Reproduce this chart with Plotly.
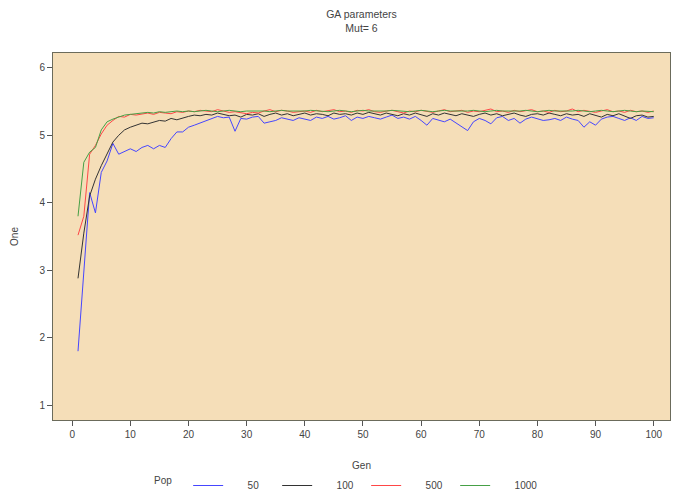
import plotly.graph_objects as go

gen = list(range(1, 101))

pop50 = [1.80, 3.00, 4.15, 3.85, 4.45, 4.62, 4.88, 4.72, 4.76, 4.80,
         4.76, 4.82, 4.85, 4.80, 4.85, 4.82, 4.95, 5.05, 5.05, 5.12,
         5.15, 5.18, 5.22, 5.25, 5.28, 5.26, 5.27, 5.06, 5.25, 5.24,
         5.27, 5.28, 5.18, 5.20, 5.22, 5.26, 5.24, 5.22, 5.26, 5.24,
         5.22, 5.27, 5.25, 5.28, 5.24, 5.26, 5.29, 5.22, 5.27, 5.25,
         5.28, 5.26, 5.24, 5.27, 5.30, 5.25, 5.27, 5.24, 5.28, 5.22,
         5.15, 5.25, 5.23, 5.20, 5.24, 5.18, 5.12, 5.07, 5.20, 5.25,
         5.22, 5.17, 5.26, 5.28, 5.22, 5.25, 5.18, 5.24, 5.27, 5.25,
         5.22, 5.23, 5.25, 5.22, 5.27, 5.24, 5.22, 5.12, 5.20, 5.15,
         5.24, 5.27, 5.28, 5.25, 5.22, 5.26, 5.22, 5.28, 5.25, 5.26]

pop100 = [2.88, 3.55, 4.10, 4.35, 4.55, 4.72, 4.90, 5.00, 5.08, 5.12,
          5.15, 5.18, 5.17, 5.20, 5.22, 5.21, 5.25, 5.23, 5.26, 5.28,
          5.30, 5.29, 5.31, 5.30, 5.33, 5.31, 5.29, 5.30, 5.27, 5.31,
          5.30, 5.32, 5.28, 5.31, 5.33, 5.30, 5.32, 5.29, 5.31, 5.33,
          5.30, 5.32, 5.31, 5.29, 5.33, 5.31, 5.32, 5.30, 5.33, 5.31,
          5.34, 5.32, 5.30, 5.33, 5.31, 5.29, 5.32, 5.30, 5.33, 5.31,
          5.28, 5.32, 5.30, 5.33, 5.31, 5.29, 5.32, 5.30, 5.28, 5.31,
          5.33, 5.30, 5.32, 5.29, 5.31, 5.33, 5.30, 5.28, 5.31, 5.32,
          5.30, 5.33, 5.31, 5.29, 5.32, 5.30, 5.31, 5.28, 5.32, 5.30,
          5.27, 5.31, 5.29, 5.32, 5.28, 5.25, 5.29, 5.30, 5.27, 5.28]

pop500 = [3.52, 3.80, 4.72, 4.85, 5.02, 5.15, 5.22, 5.28, 5.27, 5.31,
          5.30, 5.32, 5.33, 5.31, 5.34, 5.33, 5.32, 5.35, 5.34, 5.36,
          5.35, 5.37, 5.36, 5.35, 5.38, 5.36, 5.34, 5.35, 5.33, 5.32,
          5.34, 5.33, 5.36, 5.38, 5.35, 5.37, 5.36, 5.34, 5.35, 5.36,
          5.34, 5.37, 5.35, 5.36, 5.38, 5.35, 5.36, 5.34, 5.37, 5.36,
          5.38, 5.35, 5.34, 5.36, 5.37, 5.35, 5.33, 5.36, 5.35, 5.37,
          5.35, 5.34, 5.36, 5.38, 5.35, 5.36, 5.37, 5.34, 5.36, 5.35,
          5.37, 5.39, 5.35, 5.36, 5.34, 5.37, 5.35, 5.36, 5.38, 5.35,
          5.36, 5.34, 5.37, 5.35, 5.36, 5.39, 5.35, 5.37, 5.36, 5.34,
          5.36, 5.38, 5.35, 5.36, 5.34, 5.37, 5.35, 5.36, 5.34, 5.36]

pop1000 = [3.80, 4.60, 4.75, 4.82, 5.08, 5.20, 5.24, 5.27, 5.30, 5.31,
           5.32, 5.33, 5.34, 5.33, 5.35, 5.34, 5.35, 5.36, 5.35, 5.36,
           5.35, 5.36, 5.37, 5.36, 5.35, 5.36, 5.37, 5.36, 5.35, 5.36,
           5.36, 5.37, 5.36, 5.35, 5.36, 5.37, 5.36, 5.36, 5.35, 5.36,
           5.37, 5.36, 5.36, 5.35, 5.36, 5.37, 5.36, 5.35, 5.36, 5.37,
           5.36, 5.36, 5.35, 5.36, 5.37, 5.36, 5.36, 5.35, 5.36, 5.37,
           5.36, 5.35, 5.36, 5.37, 5.36, 5.36, 5.35, 5.36, 5.37, 5.36,
           5.35, 5.36, 5.37, 5.36, 5.36, 5.35, 5.36, 5.37, 5.36, 5.35,
           5.36, 5.37, 5.36, 5.36, 5.35, 5.36, 5.37, 5.36, 5.35, 5.36,
           5.37, 5.36, 5.35, 5.36, 5.37, 5.36, 5.35, 5.36, 5.36, 5.35]

series = [("50", pop50, "#4646ff"), ("100", pop100, "#333333"),
          ("500", pop500, "#ff4646"), ("1000", pop1000, "#46a046")]

x_ticks = list(range(0, 101, 10))
y_ticks = [1, 2, 3, 4, 5, 6]

fig = go.Figure()
for name, vals, col in series:
    fig.add_trace(go.Scatter(x=gen, y=vals, mode="lines",
                             name="\u00a0" * 7 + name,
                             line=dict(color=col, width=1)))

txt = dict(family="Liberation Sans, Arial, sans-serif", size=10, color="#444444")

# the page body keeps its 8px default margin, so the figure is 8px smaller than the window
fig.update_layout(
    width=673, height=492,
    margin=dict(l=45, r=11, t=45, b=80, autoexpand=False),
    paper_bgcolor="white",
    plot_bgcolor="#f5deb8",
    font=txt,
    title=dict(text="GA parameters<br>Mut= 6", x=0.5, xref="paper",
               y=0.979, yanchor="top", font=dict(txt, size=10.5)),
    showlegend=True,
    legend=dict(orientation="h", xref="container", yref="container",
                x=0.214, y=-0.004, xanchor="left", yanchor="bottom",
                title=dict(text="Pop\u00a0\u00a0\u00a0", side="left", font=txt),
                entrywidth=44, font=txt, valign="middle",
                bgcolor="rgba(0,0,0,0)"),
)
fig.update_xaxes(range=[-3.3, 102.8], tickvals=x_ticks, ticks="outside", ticklen=5,
                 tickcolor="#555555", showline=True, linecolor="#6b6b5b", linewidth=1,
                 mirror=True, showgrid=False, zeroline=False, tickfont=txt,
                 automargin=False,
                 title=dict(text="Gen", standoff=22, font=txt))
fig.update_yaxes(range=[0.78, 6.22], tickvals=y_ticks, ticks="outside", ticklen=5,
                 tickcolor="#555555", showline=True, linecolor="#6b6b5b", linewidth=1,
                 mirror=True, showgrid=False, zeroline=False, tickfont=txt,
                 automargin=False,
                 title=dict(text="One", standoff=18, font=txt))

fig.write_html("out.html")
